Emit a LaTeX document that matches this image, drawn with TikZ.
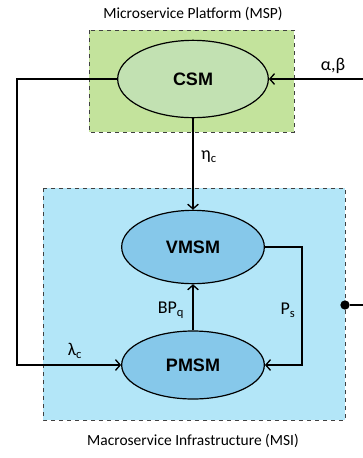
\documentclass[tikz,border=0pt]{standalone}
\usepackage{fontspec}
\setmainfont{Carlito}
\newfontfamily\boldsans{Liberation Sans}
\usepackage{xcolor}
\usetikzlibrary{arrows.meta,shapes.geometric}
\definecolor{mspbg}{HTML}{C3E39C}
\definecolor{csmfill}{HTML}{C2E1B2}
\definecolor{msibg}{HTML}{B3E6F8}
\definecolor{smfill}{HTML}{86C8EA}
\definecolor{edge}{HTML}{000000}
\tikzset{
  zone/.style={draw=edge!75, dashed, line width=0.6pt},
  model/.style={ellipse, draw=edge, line width=0.9pt, font=\boldsans\bfseries\fontsize{13.5}{15}\selectfont},
  link/.style={draw=edge, line width=1.0pt, -{Straight Barb[length=3.5pt,width=8pt]}},
  wire/.style={draw=edge, line width=1.0pt},
  dot/.style={circle, fill=edge, inner sep=0pt, minimum size=7pt},
  lab/.style={text=edge, font=\fontsize{13.5}{15}\selectfont},
  zonelab/.style={text=edge, font=\fontsize{11.6}{13}\selectfont},
}
\begin{document}
\begin{tikzpicture}[x=0.75pt, y=-0.75pt]
  \useasboundingbox (0,0) rectangle (363,458);
  % platform and infrastructure
  \filldraw[zone, fill=mspbg] (89,30) rectangle (294,132);
  \filldraw[zone, fill=msibg] (43,188) rectangle (345,420);
  \node[zonelab] (msp) at (193,14) {Microservice Platform (MSP)};
  \node[zonelab] (msi) at (193,441) {Macroservice Infrastructure (MSI)};
  % models
  \node[model, fill=csmfill, minimum width=113pt, minimum height=58pt] (csm) at (193,79) {CSM};
  \node[model, fill=smfill, minimum width=107pt, minimum height=55pt] (vmsm) at (193,247) {VMSM};
  \node[model, fill=smfill, minimum width=107pt, minimum height=51pt] (pmsm) at (193,365) {PMSM};
  % free ends
  \coordinate (inab) at (363,79);
  \coordinate (lft) at (17,365);
  \coordinate (rgt) at (302,247);
  \coordinate (outp) at (363,305);
  \node[dot] (tap) at (345,305) {};
  % connectors
  \draw[link] (inab) -- (csm.east);
  \draw[link] (csm.south) -- (vmsm.north);
  \draw[link] (pmsm.north) -- (vmsm.south);
  \draw[link] (csm.west) -| (lft) -- (pmsm.west);
  \draw[link] (vmsm.east) -- (rgt) |- (pmsm.east);
  \draw[wire] (tap) -- (outp);
  % labels
  \node[lab] (ab) at (333,66) {α,β};
  \node[lab] (eta) at (209,157) {η\textsubscript{c}};
  \node[lab] (bpq) at (171,310) {BP\textsubscript{q}};
  \node[lab] (ps) at (288,310) {P\textsubscript{s}};
  \node[lab] (lam) at (75,351) {λ\textsubscript{c}};
\end{tikzpicture}
\end{document}
